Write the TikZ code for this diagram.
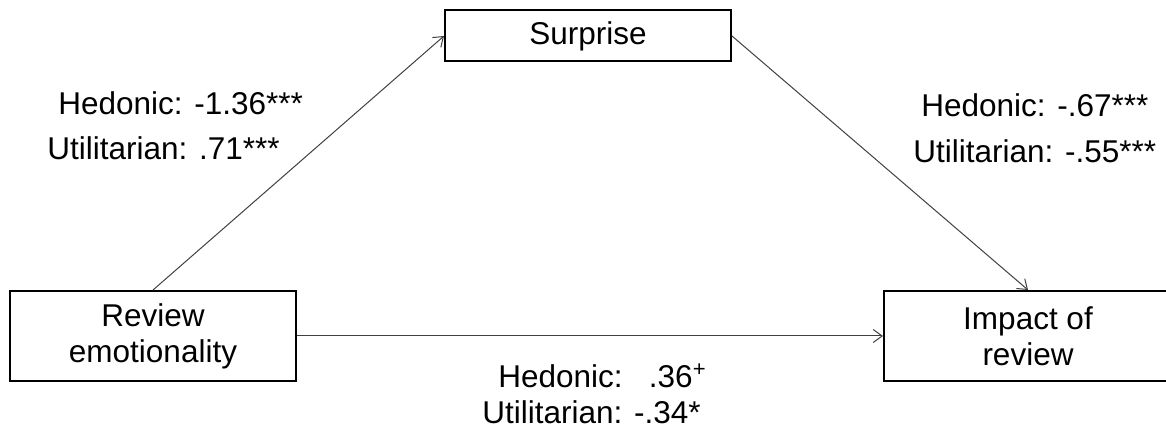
\documentclass[tikz,border=0pt]{standalone}
\usepackage{fontspec}
\setmainfont{Liberation Sans}
\usetikzlibrary{arrows.meta}

\begin{document}
\begin{tikzpicture}[x=0.5pt, y=-0.5pt,
    every node/.style = {font=\fontsize{15.75}{18}\selectfont},
    box/.style = {draw, line width=1pt, align=center, inner sep=0pt},
    path/.style = {draw=black!75, line width=0.5pt, -{Straight Barb[length=4.5pt, width=6.5pt]}},
    coef/.style = {anchor=base west, inner sep=0pt}]
    \useasboundingbox (0,0) rectangle (1166,432);
    \node [box, minimum width=143pt, minimum height=45pt] (rev) at (153,336) {Review\\emotionality};
    \node [box, minimum width=143pt, minimum height=25.5pt] (sur) at (588,36) {Surprise};
    \node [box, minimum width=144pt, minimum height=45pt] (imp) at (1028,336) {Impact of\\review};
    \draw [path] (rev.north) -- (sur.west);
    \draw [path] (sur.east) -- (imp.north);
    \draw [path] (rev.east) -- (imp.west);
    \node [coef] (a1) at (58,115) {Hedonic: -1.36***};
    \node [coef] (a2) at (47,160) {Utilitarian: .71***};
    \node [coef] (b1) at (921,117) {Hedonic: -.67***};
    \node [coef] (b2) at (913,163) {Utilitarian: -.55***};
    \node [coef] (c1) at (498,387) {Hedonic:\ \ \ .36\textsuperscript{+}};
    \node [coef] (c2) at (482,423) {Utilitarian: -.34*};
\end{tikzpicture}
\end{document}
